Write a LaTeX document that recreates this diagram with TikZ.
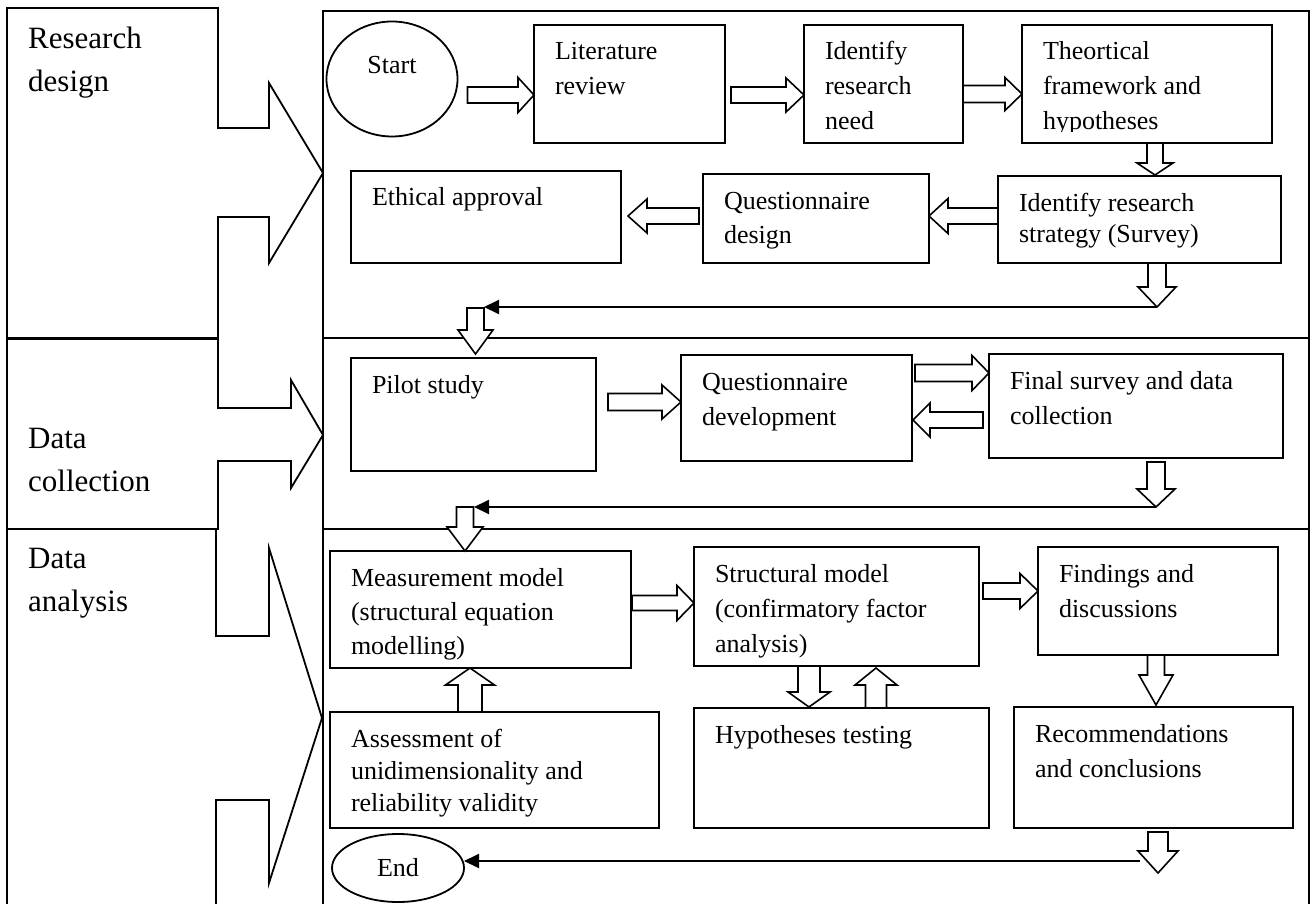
\documentclass[tikz,border=0pt]{standalone}
\usepackage{fontspec}
\setmainfont{Liberation Serif}
\usetikzlibrary{calc,arrows.meta,shapes.geometric}

\tikzset{
  panel/.style={draw, line width=1.5pt},
  stepbox/.style={draw, line width=1.8pt, rectangle, inner sep=0pt, outer sep=0pt,
    anchor=north west, font=\fontsize{26}{35}\selectfont},
  oval/.style={draw, line width=1.8pt, ellipse, inner sep=0pt, outer sep=0pt,
    font=\fontsize{26}{35}\selectfont},
  blockarrow/.style={draw, line width=1.6pt, fill=white, line join=miter},
  conn/.style={line width=2pt, -{Triangle[length=15pt,width=14pt]}},
  callout/.style={draw, line width=1.8pt, line join=miter},
  phase/.style={anchor=north west, inner sep=0pt, align=left,
    font=\fontsize{31}{43}\selectfont},
}

% text of a step box: left padding, fixed-size top-aligned parbox
\newcommand\bx[3]{\hspace*{21pt}\parbox[c][#2][t]{#1}{\raggedright\rule{0pt}{35pt}#3}}

% hollow block arrow: tail, tip, shaft half-width, head half-width, head length
\newcommand\blk[5]{%
  \draw[blockarrow] let \p1=#1, \p2=#2,
      \n1={veclen(\x2-\x1,\y2-\y1)}, \n2={atan2(\y2-\y1,\x2-\x1)} in
    {[shift={(\p1)}, rotate=\n2]
      (0pt,-#3pt) -- ({\n1-#5pt},-#3pt) -- ({\n1-#5pt},-#4pt) -- (\n1,0pt)
      -- ({\n1-#5pt},#4pt) -- ({\n1-#5pt},#3pt) -- (0pt,#3pt) -- cycle};}

\begin{document}
\begin{tikzpicture}[x=1pt,y=-1pt]
\useasboundingbox (0,0) rectangle (1311,904);

% ---- phase callouts on the left ----
\draw[callout] (7,338) -- (7,8) -- (218,8) -- (218,128) -- (269,128) -- (269,83)
  -- (323,173) -- (269,263) -- (269,217) -- (218,217) -- (218,338) -- cycle;
\draw[callout] (7,529) -- (7,339) -- (218,339) -- (218,408) -- (291,408) -- (291,380)
  -- (323,435) -- (291,488) -- (291,461) -- (218,461) -- (218,529) -- cycle;
\draw[callout] (7,910) -- (7,529) -- (216,529) -- (216,636) -- (269,636) -- (269,548)
  -- (322,718) -- (269,883) -- (269,800) -- (216,800) -- (216,910);

\node[phase] (lrd) at (28,18) {\rule{0pt}{30pt}Research\\design};
\node[phase] (ldc) at (28,418) {\rule{0pt}{30pt}Data\\collection};
\node[phase] (lda) at (28,538) {\rule{0pt}{30pt}Data\\analysis};

% ---- phase panels ----
\draw[panel] (323,11) rectangle (1309,338);
\draw[panel] (323,338) rectangle (1309,529);
\draw[panel] (323,910) -- (323,529) -- (1309,529) -- (1309,910);

% ---- research design ----
\node[oval, minimum width=131pt, minimum height=115pt, text height=17pt, text depth=27pt]
  (start) at (392,79) {Start};
\node[stepbox] (lit) at (534,25) {\bx{170pt}{118pt}{Literature\\review}};
\node[stepbox] (idn) at (804,25) {\bx{138pt}{118pt}{Identify\\research\\need}};
\begin{scope}
  \clip (1022,25) rectangle (1272,132);
  \node[stepbox, draw=none] (theo) at (1022,25)
    {\bx{229pt}{118pt}{Theortical\\framework and\\hypotheses}};
\end{scope}
\draw[line width=1.8pt] (theo.north west) rectangle (theo.south east);
\node[stepbox] (strat) at (998,176) {\bx{262pt}{87pt}{Identify research\\[-4pt]strategy (Survey)}};
\node[stepbox] (qdes) at (703,174) {\bx{205pt}{89pt}{Questionnaire\\design}};
\node[stepbox] (eth) at (351,171) {\bx{249pt}{92pt}{Ethical approval}};

% ---- data collection ----
\node[stepbox] (pilot) at (351,358) {\bx{224pt}{113pt}{Pilot study}};
\node[stepbox] (qdev) at (681,355) {\bx{210pt}{106pt}{Questionnaire\\development}};
\node[stepbox] (final) at (989,354) {\bx{273pt}{104pt}{Final survey and data\\collection}};

% ---- data analysis ----
\node[stepbox] (meas) at (330,551) {\bx{280pt}{117pt}{Measurement model\\[-1pt](structural equation\\[-1pt]modelling)}};
\node[stepbox] (struct) at (694,547) {\bx{264pt}{119pt}{Structural model\\(confirmatory factor\\analysis)}};
\node[stepbox] (find) at (1038,547) {\bx{219pt}{108pt}{Findings and\\discussions}};
\node[stepbox] (assess) at (330,712) {\bx{308pt}{116pt}{Assessment of\\[-3pt]unidimensionality and\\[-3pt]reliability validity}};
\node[stepbox] (hyp) at (694,708) {\bx{274pt}{120pt}{Hypotheses testing}};
\node[stepbox] (rec) at (1014,707) {\bx{258pt}{121pt}{Recommendations\\and conclusions}};
\node[oval, minimum width=132pt, minimum height=68pt] (end) at (398,868) {End};

% ---- junction points of the return lines ----
\coordinate (j1) at ($(strat.south)+(17.5,44)$);
\coordinate (t8) at ($(pilot.north)+(2,-50)$);
\coordinate (j2) at ($(final.south)+(20,49)$);
\coordinate (t13) at ($(meas.north)+(-15.5,-44)$);
\coordinate (j3) at ($(rec.south)+(-14,33)$);

\draw[conn] (j1) -- ($(t8)+(8.5,-1)$);
\draw[conn] (j2) -- ($(t13)+(9,0)$);
\draw[conn] (j3) -- (j3 -| end.east);

% ---- block arrows ----
\blk{($(start.east)+(10,16)$)}{($(lit.west)+(0,11)$)}{8}{17.5}{16}
\blk{($(lit.east)+(6,11)$)}{($(idn.west)+(0,11)$)}{8}{17}{18}
\blk{($(idn.east)+(0,10)$)}{($(theo.west)+(0,10)$)}{8.5}{16.5}{17}
\blk{($(theo.south)+(8,0)$)}{($(theo.south)+(8,32)$)}{8}{18}{12}
\blk{($(strat.west)+(0,-3.5)$)}{($(qdes.east)+(0,-2.5)$)}{8}{17.5}{19}
\blk{($(qdes.west)+(-4,-2.5)$)}{($(eth.east)+(7,-1)$)}{8}{17}{19}
\blk{($(strat.south)+(17.5,0)$)}{(j1)}{9}{19}{20}
\blk{(t8)}{($(pilot.north)+(2,-4)$)}{8.5}{17.5}{24}

\blk{($(pilot.east)+(12,-12.5)$)}{($(qdev.west)+(0,-6)$)}{8.5}{17}{19}
\blk{($(qdev.east)+(3,-35)$)}{($(final.west)+(0,-33)$)}{8.5}{17.5}{17}
\blk{($(final.west)+(-6,14)$)}{($(qdev.east)+(1,12)$)}{8}{17}{17}
\blk{($(final.south)+(20,4)$)}{(j2)}{9}{19}{18}
\blk{(t13)}{($(meas.north)+(-15.5,0)$)}{8.5}{18}{24}

\blk{($(meas.east)+(1,-6.5)$)}{($(struct.west)+(0,-3.5)$)}{7.5}{17.5}{17}
\blk{($(struct.east)+(4,-15.5)$)}{($(find.west)+(0,-10)$)}{8}{17.5}{18}
\blk{($(find.south)+(-2,0)$)}{($(find.south)+(-2,50)$)}{8.5}{17}{30}
\blk{($(struct.south)+(-27.5,0)$)}{($(struct.south)+(-27.5,41)$)}{11}{21}{15}
\blk{($(hyp.north)+(34.5,0)$)}{($(hyp.north)+(34.5,-40)$)}{10.5}{21}{17}
\blk{($(assess.north)+(-24.5,0)$)}{($(assess.north)+(-24.5,-44)$)}{12}{24.5}{17}
\blk{($(rec.south)+(4.5,4)$)}{($(rec.south)+(4.5,45)$)}{10}{20}{22}

\end{tikzpicture}
\end{document}
